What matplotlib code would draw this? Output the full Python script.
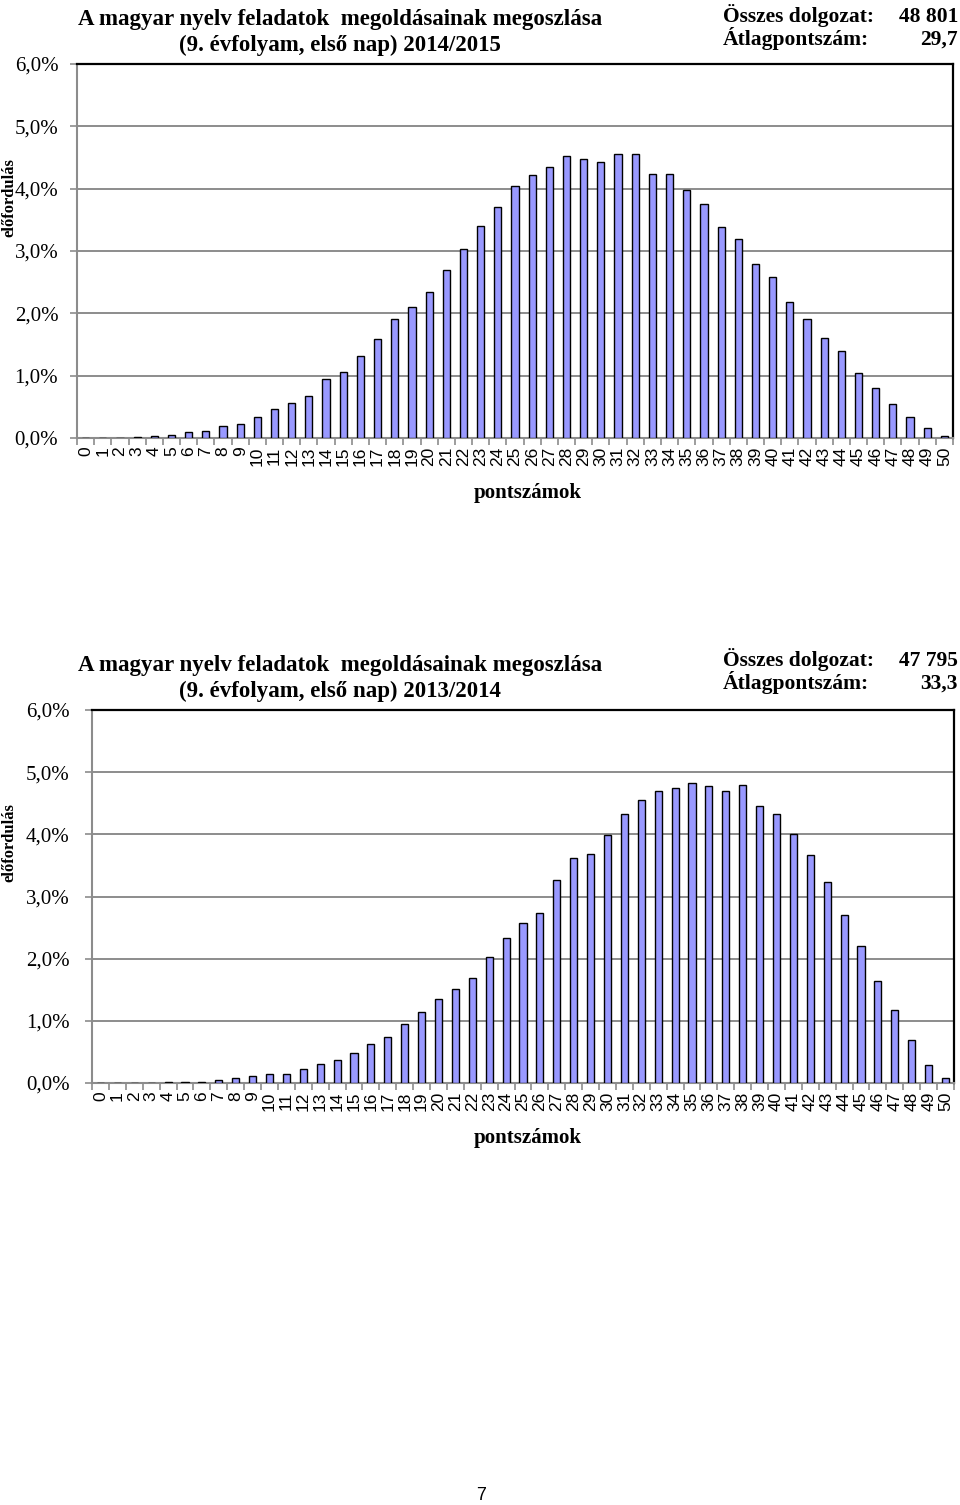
import matplotlib
matplotlib.use("Agg")
import matplotlib.pyplot as plt
import numpy as np

scores = list(range(51))
values_2015 = [0, 0, 0, 0.02, 0.03, 0.05, 0.10, 0.12, 0.19, 0.23,
               0.34, 0.47, 0.56, 0.68, 0.94, 1.06, 1.32, 1.59, 1.91, 2.10,
               2.34, 2.69, 3.03, 3.40, 3.70, 4.05, 4.22, 4.35, 4.53, 4.47,
               4.43, 4.56, 4.56, 4.24, 4.23, 3.98, 3.76, 3.39, 3.19, 2.79,
               2.59, 2.18, 1.91, 1.60, 1.39, 1.04, 0.80, 0.54, 0.34, 0.16, 0.04]
values_2014 = [0, 0, 0, 0.005, 0.01, 0.01, 0.02, 0.05, 0.075, 0.12,
               0.145, 0.14, 0.22, 0.30, 0.365, 0.49, 0.62, 0.745, 0.955, 1.15,
               1.35, 1.52, 1.69, 2.03, 2.34, 2.575, 2.735, 3.27, 3.615, 3.69,
               3.985, 4.32, 4.55, 4.69, 4.74, 4.83, 4.775, 4.695, 4.79, 4.45,
               4.32, 4.00, 3.67, 3.23, 2.70, 2.20, 1.64, 1.17, 0.69, 0.29, 0.086]
y_ticks = [0, 1, 2, 3, 4, 5, 6]
y_tick_labels = ["0,0%", "1,0%", "2,0%", "3,0%", "4,0%", "5,0%", "6,0%"]

title_line1 = "A magyar nyelv feladatok  megoldásainak megoszlása"
titles_line2 = ["(9. évfolyam, első nap) 2014/2015", "(9. évfolyam, első nap) 2013/2014"]
totals = ["48 801", "47 795"]
averages = ["29,7", "33,3"]

SERIF = "Liberation Serif"
SANS = "Liberation Sans"
W, H = 960, 1505
fig = plt.figure(figsize=(W / 100, H / 100), dpi=100)

def fx(x):
    return x / W

def fy(y):
    return 1 - y / H

GRID = "#8c8c8c"
BAR = "#9999ff"

def draw_chart(rect, values, line2, total, avg, ttl_y, info_y, ylab_y, xlab_y, ypad):
    left, top, right, bottom = rect
    ax = fig.add_axes([fx(left), fy(bottom), (right - left) / W, (bottom - top) / H])
    ax.bar(scores, values, width=0.42, color=BAR, edgecolor="black", linewidth=1.0, zorder=3)
    ax.set_xlim(-0.5, 50.5)
    ax.set_ylim(0, 6)
    ax.set_yticks(y_ticks)
    ax.set_yticklabels(y_tick_labels, fontfamily=SERIF, fontsize=15)
    for yv in y_ticks[1:6]:
        ax.axhline(yv, color=GRID, linewidth=1.4, zorder=1)
    ax.set_xticks(scores)
    ax.set_xticklabels([str(s) for s in scores], rotation=90, fontfamily=SANS, fontsize=12.5)
    ax.set_xticks(np.arange(-0.5, 51, 1), minor=True)
    ax.tick_params(axis="x", which="major", length=0, pad=6)
    ax.tick_params(axis="x", which="minor", length=5, color=GRID, width=1.2)
    ax.tick_params(axis="y", length=5, color=GRID, width=1.2, pad=ypad)
    ax.spines["left"].set_color(GRID)
    ax.spines["left"].set_linewidth(1.5)
    ax.spines["bottom"].set_color(GRID)
    ax.spines["bottom"].set_linewidth(1.5)
    ax.spines["top"].set_color("black")
    ax.spines["top"].set_linewidth(1.6)
    ax.spines["right"].set_color("black")
    ax.spines["right"].set_linewidth(1.6)
    # titles
    fig.text(fx(340), fy(ttl_y), title_line1, ha="center", va="center",
             fontfamily=SERIF, fontweight="bold", fontsize=16.5)
    fig.text(fx(340), fy(ttl_y + 26), line2, ha="center", va="center",
             fontfamily=SERIF, fontweight="bold", fontsize=16.5)
    base1 = info_y + 6
    base2 = info_y + 29
    fig.text(fx(723), fy(base1), "Összes dolgozat:", ha="left", va="baseline",
             fontfamily=SERIF, fontweight="bold", fontsize=15.5)
    fig.text(fx(958), fy(base1), total, ha="right", va="baseline",
             fontfamily=SERIF, fontweight="bold", fontsize=15.5)
    fig.text(fx(723), fy(base2), "Átlagpontszám:", ha="left", va="baseline",
             fontfamily=SERIF, fontweight="bold", fontsize=15.5)
    fig.text(fx(958), fy(base2), avg, ha="right", va="baseline",
             fontfamily=SERIF, fontweight="bold", fontsize=15.5)
    fig.text(fx(9), fy(ylab_y), "előfordulás", rotation=90, ha="center", va="center",
             fontfamily=SERIF, fontweight="bold", fontsize=12)
    fig.text(fx(528), fy(xlab_y), "pontszámok", ha="center", va="center",
             fontfamily=SERIF, fontweight="bold", fontsize=15)
    return ax

draw_chart((77, 64, 953, 438), values_2015, titles_line2[0], totals[0], averages[0],
           ttl_y=19, info_y=16, ylab_y=198, xlab_y=493, ypad=8.5)
draw_chart((92, 710, 954, 1083), values_2014, titles_line2[1], totals[1], averages[1],
           ttl_y=665, info_y=660, ylab_y=843, xlab_y=1138, ypad=11)

fig.text(fx(481), fy(1496), "7", ha="center", va="center", fontfamily=SANS, fontsize=13)

fig.savefig("out.png", dpi=100)
